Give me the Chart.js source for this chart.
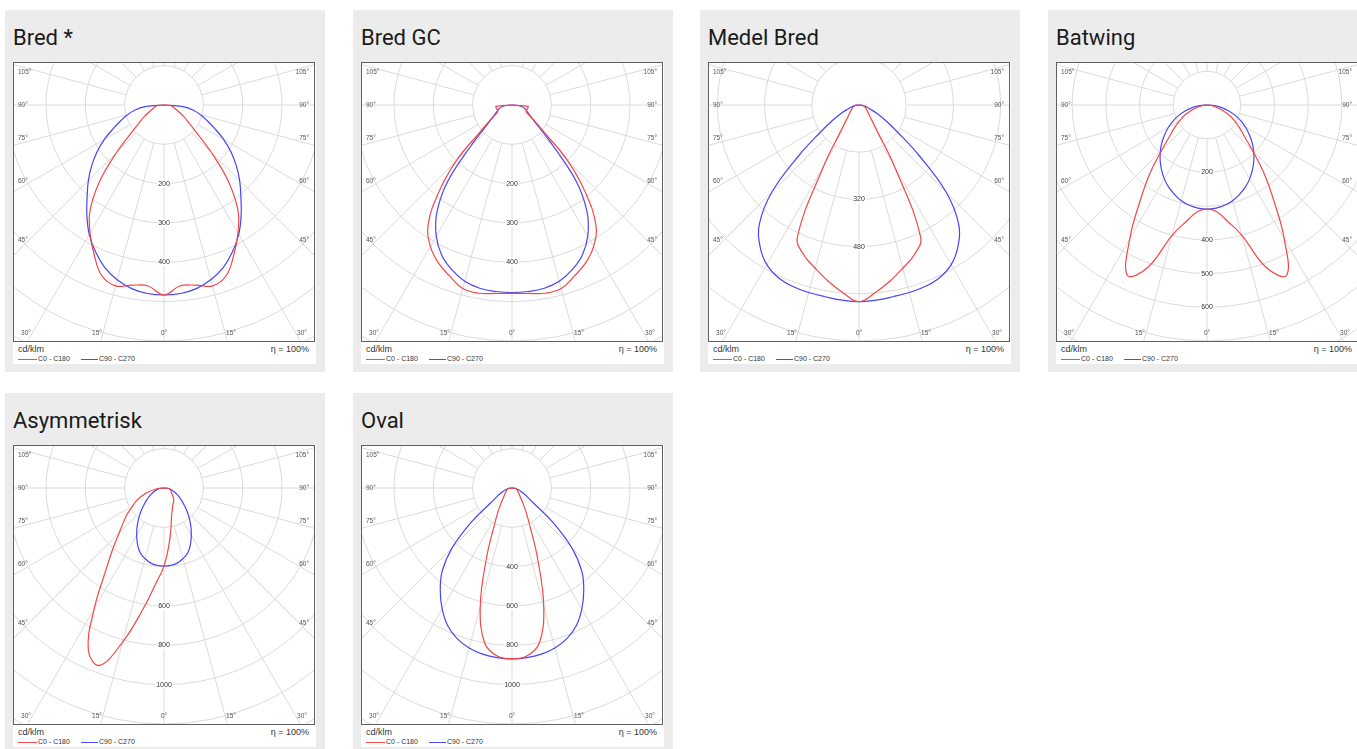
<!DOCTYPE html>
<html>
<head>
<meta charset="utf-8">
<script src="https://cdn.jsdelivr.net/npm/chart.js@4.4.1/dist/chart.umd.min.js"></script>
<style>
  body { margin: 0; width: 1357px; height: 749px; overflow: hidden; background: #fff; position: relative; }
  .card { position: absolute; width: 320px; height: 362px; background: #ececec; }
  .title { position: absolute; left: 8px; top: 15px; font: 400 22px Roboto, sans-serif; color: #1b1b1b; white-space: nowrap; }
  .panel { position: absolute; left: 8px; top: 52px; width: 303px; height: 302px; background: #fff; }
  .frame { position: absolute; left: 0; top: 0; width: 300px; height: 278px; border: 1px solid #606060; }
  .frame canvas { display: block; }
  .unit, .eta { position: absolute; top: 282px; font: 9px "Liberation Sans", sans-serif; line-height: 10px; color: #333; }
  .unit { left: 5px; }
  .eta { right: 7px; }
  .leg { position: absolute; top: 293px; font: 7px "Liberation Sans", sans-serif; line-height: 8px; color: #333; white-space: nowrap; }
  .sw { position: absolute; top: 297px; height: 1px; }
  .sw.red { left: 5px; width: 19px; background: #f24c4c; }
  .sw.blue { left: 68px; width: 17px; background: #4c4cf2; }
</style>
</head>
<body>

<div class="card" style="left:5px;top:10px">
  <div class="title">Bred *</div>
  <div class="panel">
    <div class="frame"><canvas id="bred" width="300" height="278"></canvas></div>
    <div class="unit">cd/klm</div><div class="eta">η = 100%</div>
    <span class="sw red"></span><div class="leg" style="left:25px">C0 - C180</div>
    <span class="sw blue"></span><div class="leg" style="left:86px">C90 - C270</div>
  </div>
</div>

<div class="card" style="left:353px;top:10px">
  <div class="title">Bred GC</div>
  <div class="panel">
    <div class="frame"><canvas id="bredgc" width="300" height="278"></canvas></div>
    <div class="unit">cd/klm</div><div class="eta">η = 100%</div>
    <span class="sw red"></span><div class="leg" style="left:25px">C0 - C180</div>
    <span class="sw blue"></span><div class="leg" style="left:86px">C90 - C270</div>
  </div>
</div>

<div class="card" style="left:700px;top:10px">
  <div class="title">Medel Bred</div>
  <div class="panel">
    <div class="frame"><canvas id="medel" width="300" height="278"></canvas></div>
    <div class="unit">cd/klm</div><div class="eta">η = 100%</div>
    <span class="sw red"></span><div class="leg" style="left:25px">C0 - C180</div>
    <span class="sw blue"></span><div class="leg" style="left:86px">C90 - C270</div>
  </div>
</div>

<div class="card" style="left:1048px;top:10px">
  <div class="title">Batwing</div>
  <div class="panel">
    <div class="frame"><canvas id="batwing" width="300" height="278"></canvas></div>
    <div class="unit">cd/klm</div><div class="eta">η = 100%</div>
    <span class="sw red"></span><div class="leg" style="left:25px">C0 - C180</div>
    <span class="sw blue"></span><div class="leg" style="left:86px">C90 - C270</div>
  </div>
</div>

<div class="card" style="left:5px;top:393px">
  <div class="title">Asymmetrisk</div>
  <div class="panel">
    <div class="frame"><canvas id="asym" width="300" height="278"></canvas></div>
    <div class="unit">cd/klm</div><div class="eta">η = 100%</div>
    <span class="sw red"></span><div class="leg" style="left:25px">C0 - C180</div>
    <span class="sw blue"></span><div class="leg" style="left:86px">C90 - C270</div>
  </div>
</div>

<div class="card" style="left:353px;top:393px">
  <div class="title">Oval</div>
  <div class="panel">
    <div class="frame"><canvas id="oval" width="300" height="278"></canvas></div>
    <div class="unit">cd/klm</div><div class="eta">η = 100%</div>
    <span class="sw red"></span><div class="leg" style="left:25px">C0 - C180</div>
    <span class="sw blue"></span><div class="leg" style="left:86px">C90 - C270</div>
  </div>
</div>

<script>
// Vinklar från nadir (0°) till horisontalt (90°)
const angles = [0, 5, 10, 15, 20, 25, 30, 35, 40, 45, 50, 55, 60, 65, 70, 75, 80, 85, 90];

// Ljusstyrka cd/klm per vinkel
const bredC0 = [483, 462, 465, 476, 462, 420, 376, 328, 256, 170, 106, 75, 57, 42, 32, 26, 22, 18, 0];
const bredC90 = [483, 481, 474, 460, 440, 412, 380, 342, 304, 272, 240, 208, 175, 143, 117, 96, 76, 48, 0];

const bredGcC0 = [479, 481, 486, 483, 463, 443, 415, 372, 290, 200, 105, 70, 48, 40, 39, 40, 41, 41, 0];
const bredGcC90 = [477, 476, 473, 464, 446, 422, 385, 333, 255, 150, 92, 66, 52, 44, 38, 33, 26, 15, 0];

const medelC0 = [667, 638, 606, 573, 543, 495, 240, 105, 68, 50, 40, 34, 29, 25, 22, 19, 15, 9, 0];
const medelC90 = [667, 664, 660, 658, 655, 646, 625, 585, 525, 418, 265, 158, 102, 65, 40, 27, 17, 8, 0];

const batwingC0 = [309, 317, 350, 400, 512, 558, 458, 345, 262, 190, 145, 118, 95, 74, 52, 32, 18, 8, 0];
const batwingC90 = [309, 307, 302, 294, 282, 269, 253, 235, 216, 196, 175, 153, 132, 110, 88, 66, 44, 22, 0];

const asymC0 = [397, 290, 205, 148, 122, 104, 93, 86, 76, 66, 56, 48, 43, 40, 37, 34, 30, 22, 0];
const asymC180 = [397, 490, 630, 810, 960, 910, 710, 520, 405, 322, 268, 226, 185, 155, 122, 88, 52, 24, 0];
const asymC90 = [397, 395, 388, 372, 352, 318, 278, 238, 200, 165, 133, 108, 88, 70, 55, 42, 30, 16, 0];

const ovalC0 = [869, 858, 800, 624, 380, 218, 145, 100, 72, 56, 46, 40, 35, 31, 28, 25, 22, 14, 0];
const ovalC90 = [869, 866, 858, 842, 815, 773, 710, 636, 552, 430, 270, 135, 90, 64, 47, 34, 22, 11, 0];

// Etiketter på cirklarna
const bredTicks = [200, 300, 400];
const bredGcTicks = [200, 300, 400];
const medelTicks = [320, 480];
const batwingTicks = [200, 400, 500, 600];
const asymTicks = [600, 800, 1000];
const ovalTicks = [400, 600, 800, 1000];

const sideAngles = [105, 90, 75, 60, 45];
const bottomAngles = [-30, -15, 0, 15, 30];

const redColor = '#f44646';
const blueColor = '#4646f4';

// Polärt rutnät ritat via diagrammets skalor
const polarGrid = {
    id: 'polarGrid',
    beforeDatasetsDraw(chart, args, opts) {
        const {ctx, chartArea: a, scales: {x, y}} = chart;
        const cx = x.getPixelForValue(0);
        const cy = y.getPixelForValue(0);
        const ring = x.getPixelForValue(opts.step) - cx;
        ctx.save();
        ctx.beginPath();
        ctx.rect(a.left, a.top, a.right - a.left, a.bottom - a.top);
        ctx.clip();

        ctx.strokeStyle = '#dadada';
        ctx.lineWidth = 1;
        for (let r = ring; r < 420; r += ring) {
            ctx.beginPath();
            ctx.arc(cx, cy, r, 0, Math.PI * 2);
            ctx.stroke();
        }
        for (let g = 0; g < 360; g += 15) {
            const t = g * Math.PI / 180;
            ctx.beginPath();
            ctx.moveTo(cx + ring * Math.sin(t), cy + ring * Math.cos(t));
            ctx.lineTo(cx + 500 * Math.sin(t), cy + 500 * Math.cos(t));
            ctx.stroke();
        }

        // värden längs 0°
        ctx.font = '7px "Liberation Sans"';
        ctx.textAlign = 'center';
        ctx.textBaseline = 'middle';
        opts.ticks.forEach(v => {
            const py = y.getPixelForValue(-v);
            const w = ctx.measureText(String(v)).width + 2;
            ctx.fillStyle = '#fff';
            ctx.fillRect(cx - w / 2, py - 4, w, 8);
            ctx.fillStyle = '#333';
            ctx.fillText(String(v), cx, py);
        });

        // vinkeletiketter
        ctx.font = '6.5px "Liberation Sans"';
        ctx.fillStyle = '#555';
        sideAngles.forEach(g => {
            const t = g * Math.PI / 180;
            const c = Math.cos(t) / Math.sin(t);
            const ly = cy + 140 * c - Math.sign(Math.round(c * 1000)) * 4.5;
            ctx.textAlign = 'left';
            ctx.fillText(g + '°', a.left + 4, ly);
            ctx.textAlign = 'right';
            ctx.fillText(g + '°', a.right - 5, ly);
        });
        ctx.textAlign = 'center';
        bottomAngles.forEach(g => {
            let lx = cx + 250 * Math.tan(g * Math.PI / 180);
            lx = Math.min(Math.max(lx, a.left + 12), a.right - 12);
            ctx.fillText(Math.abs(g) + '°', lx, a.bottom - 8);
        });
        ctx.restore();
    }
};

function polar(deg, v) {
    const t = deg * Math.PI / 180;
    return {x: v * Math.sin(t), y: -v * Math.cos(t)};
}

// vänster halva (C180/C270) + höger halva (C0/C90)
function curve(left, right) {
    const pts = [];
    for (let i = angles.length - 1; i >= 0; i--) pts.push(polar(-angles[i], left[i]));
    for (let i = 1; i < angles.length; i++) pts.push(polar(angles[i], right[i]));
    return pts;
}

function drawDiagram(id, reach, step, ticks, red, blue) {
    const ctx = document.getElementById(id).getContext('2d');
    return new Chart(ctx, {
        type: 'scatter',
        data: {
            datasets: [{
                label: 'C0 - C180',
                data: curve(red[0], red[1]),
                borderColor: redColor,
                borderWidth: 1.2,
                showLine: true,
                tension: 0.4,
                pointRadius: 0
            }, {
                label: 'C90 - C270',
                data: curve(blue[0], blue[1]),
                borderColor: blueColor,
                borderWidth: 1.2,
                showLine: true,
                tension: 0.4,
                pointRadius: 0
            }]
        },
        options: {
            responsive: false,
            animation: false,
            layout: {padding: 0},
            plugins: {
                legend: {display: false},
                tooltip: {enabled: false},
                polarGrid: {step: step, ticks: ticks}
            },
            scales: {
                x: {type: 'linear', display: false, min: -reach * 150 / 236, max: reach * 150 / 236},
                y: {type: 'linear', display: false, min: -reach, max: reach * 42 / 236}
            }
        },
        plugins: [polarGrid]
    });
}

drawDiagram('bred', 600, 100, bredTicks, [bredC0, bredC0], [bredC90, bredC90]);
drawDiagram('bredgc', 600, 100, bredGcTicks, [bredGcC0, bredGcC0], [bredGcC90, bredGcC90]);
drawDiagram('medel', 800, 160, medelTicks, [medelC0, medelC0], [medelC90, medelC90]);
drawDiagram('batwing', 700, 100, batwingTicks, [batwingC0, batwingC0], [batwingC90, batwingC90]);
drawDiagram('asym', 1200, 200, asymTicks, [asymC180, asymC0], [asymC90, asymC90]);
drawDiagram('oval', 1200, 200, ovalTicks, [ovalC0, ovalC0], [ovalC90, ovalC90]);
</script>
</body>
</html>
